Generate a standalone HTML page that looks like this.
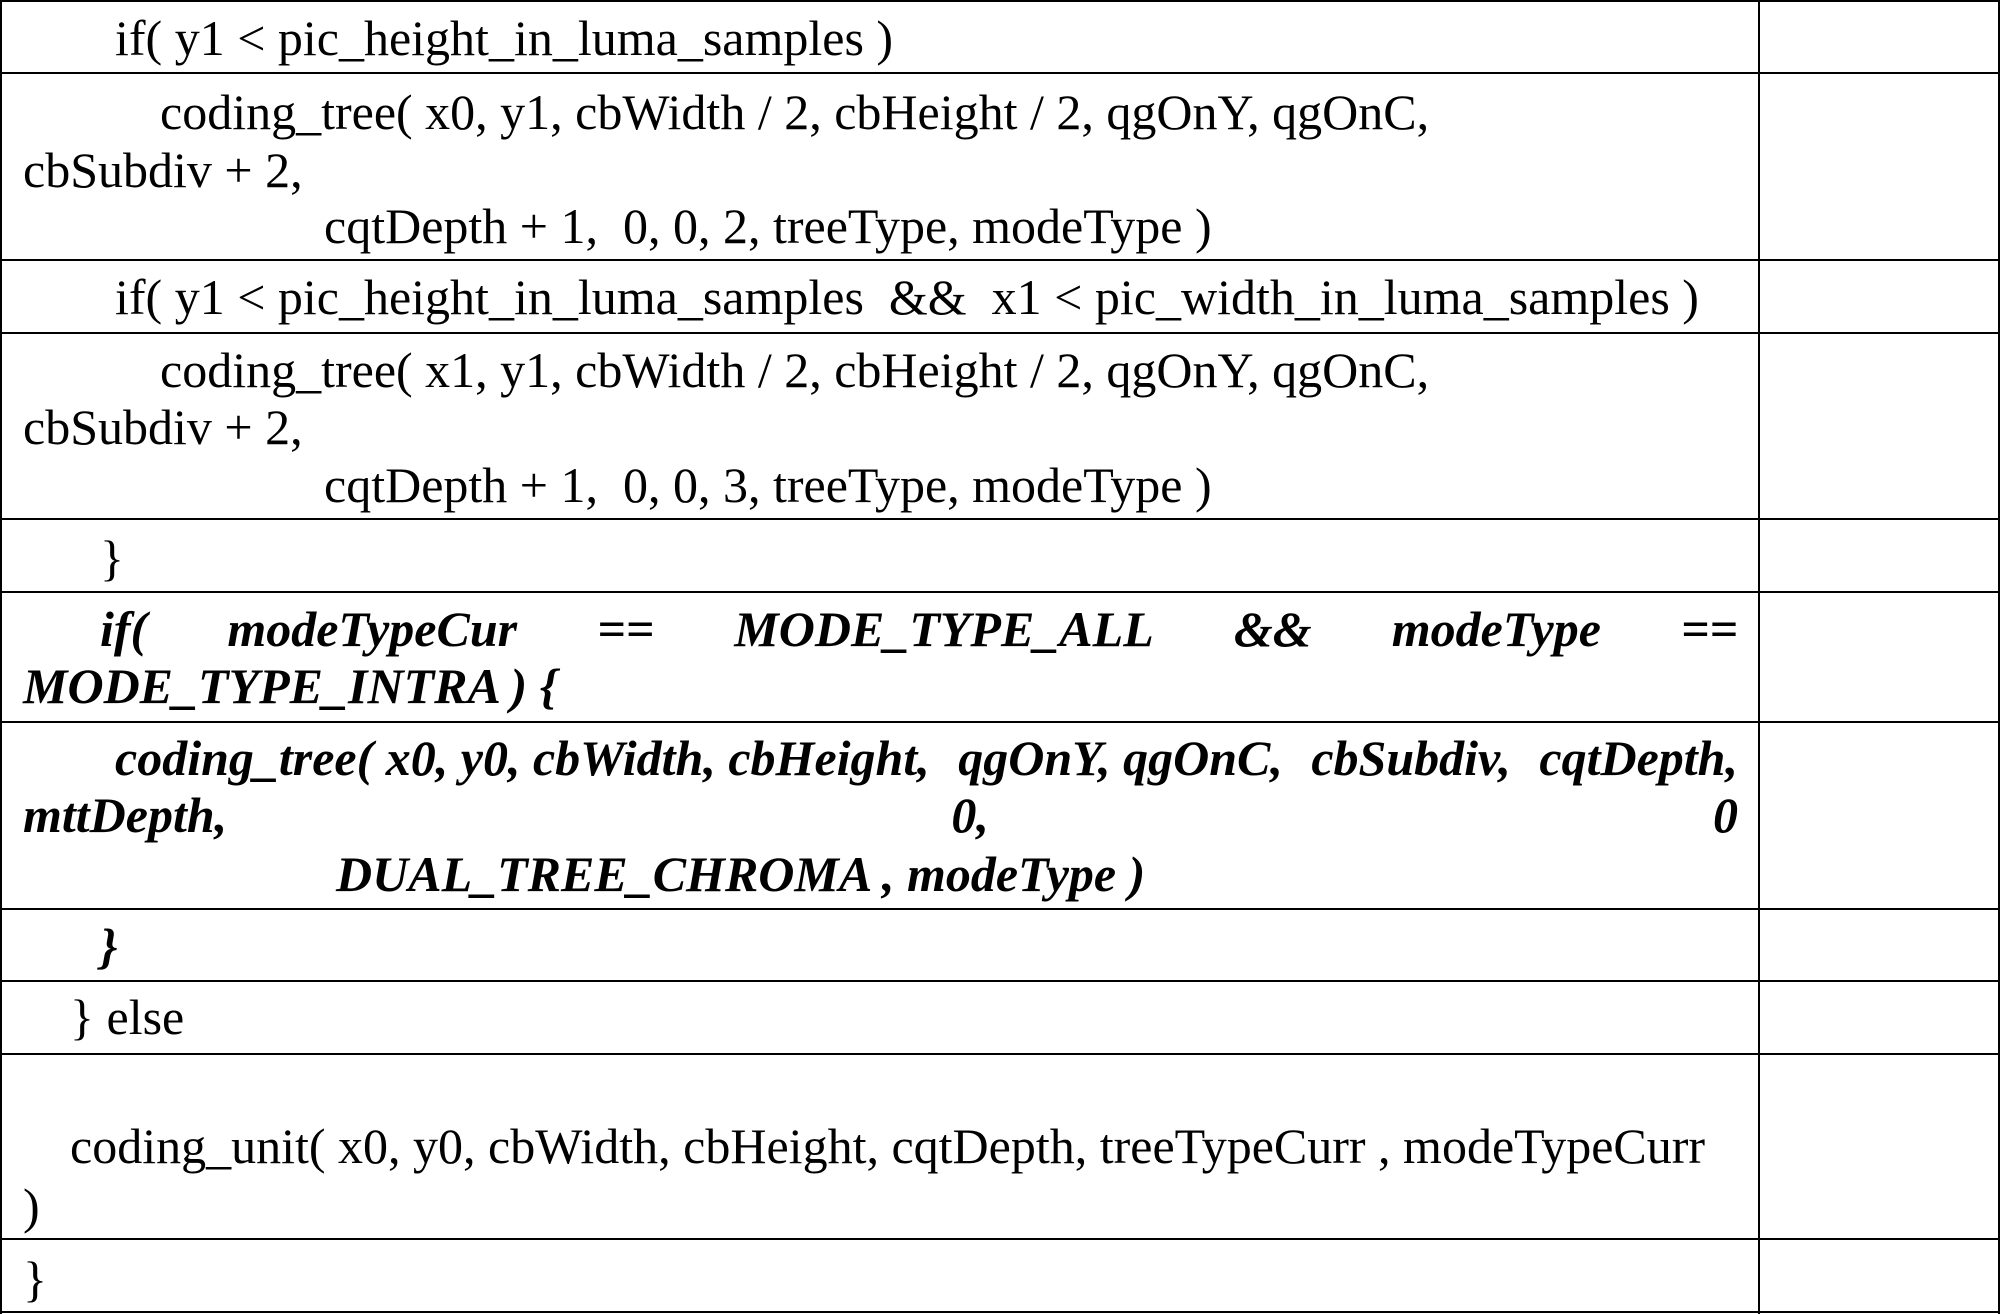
<!DOCTYPE html>
<html><head><meta charset="utf-8"><style>
html,body{margin:0;padding:0;background:#fff;}
#c{position:relative;width:2001px;height:1314px;overflow:hidden;font-family:"Liberation Serif",serif;font-size:50px;color:#000;}
.h{position:absolute;left:0;width:2000px;height:2px;background:#000;}
.v{position:absolute;top:0;height:1314px;width:2px;background:#000;}
.t{position:absolute;line-height:50px;height:50px;white-space:pre;}
.b{font-weight:bold;font-style:italic;}
.j{display:flex;justify-content:space-between;}
</style></head><body><div id="c">
<div class="h" style="top:0"></div>
<div class="h" style="top:72px"></div>
<div class="h" style="top:259px"></div>
<div class="h" style="top:332px"></div>
<div class="h" style="top:518px"></div>
<div class="h" style="top:591px"></div>
<div class="h" style="top:721px"></div>
<div class="h" style="top:908px"></div>
<div class="h" style="top:980px"></div>
<div class="h" style="top:1053px"></div>
<div class="h" style="top:1238px"></div>
<div class="h" style="top:1311px"></div>
<div class="v" style="left:0"></div>
<div class="v" style="left:1758px"></div>
<div class="v" style="left:1998px"></div>

<div class="t" style="left:115px;top:13px">if( y1 &lt; pic_height_in_luma_samples )</div>
<div class="t" style="left:160px;top:87px">coding_tree( x0, y1, cbWidth / 2, cbHeight / 2, qgOnY, qgOnC,</div>
<div class="t" style="left:23px;top:145px">cbSubdiv + 2,</div>
<div class="t" style="left:324px;top:201px">cqtDepth + 1,  0, 0, 2, treeType, modeType )</div>
<div class="t" style="left:115px;top:272px">if( y1 &lt; pic_height_in_luma_samples  &amp;&amp;  x1 &lt; pic_width_in_luma_samples )</div>
<div class="t" style="left:160px;top:345px">coding_tree( x1, y1, cbWidth / 2, cbHeight / 2, qgOnY, qgOnC,</div>
<div class="t" style="left:23px;top:402px">cbSubdiv + 2,</div>
<div class="t" style="left:324px;top:460px">cqtDepth + 1,  0, 0, 3, treeType, modeType )</div>
<div class="t" style="left:100px;top:533px">}</div>
<div class="t b j" style="left:100px;width:1638px;top:604px"><span>if(</span><span>modeTypeCur</span><span>==</span><span>MODE_TYPE_ALL</span><span>&amp;&amp;</span><span>modeType</span><span>==</span></div>
<div class="t b" style="left:23px;top:661px">MODE_TYPE_INTRA ) {</div>
<div class="t b j" style="left:115px;width:1623px;top:733px"><span>coding_tree( x0, y0, cbWidth, cbHeight,</span><span>qgOnY, qgOnC,</span><span>cbSubdiv,</span><span>cqtDepth,</span></div>
<div class="t b j" style="left:23px;width:1715px;top:790px"><span>mttDepth,</span><span>0,</span><span>0</span></div>
<div class="t b" style="left:336px;top:849px">DUAL_TREE_CHROMA , modeType )</div>
<div class="t b" style="left:100px;top:921px">}</div>
<div class="t" style="left:70px;top:992px">} else</div>
<div class="t" style="left:70px;top:1121px">coding_unit( x0, y0, cbWidth, cbHeight, cqtDepth, treeTypeCurr , modeTypeCurr</div>
<div class="t" style="left:23px;top:1181px">)</div>
<div class="t" style="left:23px;top:1254px">}</div>
</div></body></html>
